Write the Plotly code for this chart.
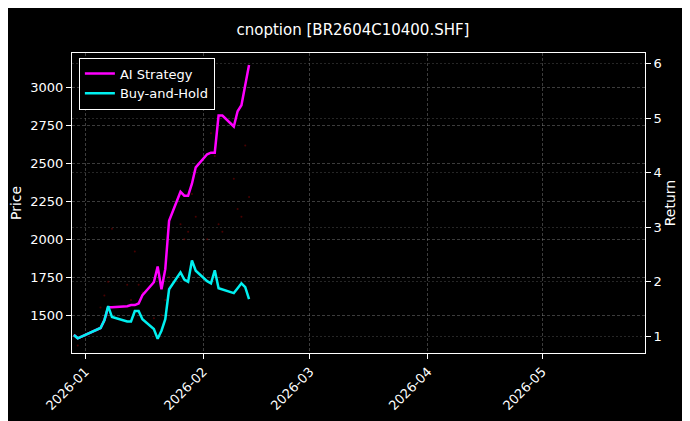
import plotly.graph_objects as go

dates = ["2025-12-29","2025-12-30","2026-01-05","2026-01-06","2026-01-07","2026-01-08","2026-01-12","2026-01-13",
         "2026-01-14","2026-01-15","2026-01-16","2026-01-19","2026-01-20","2026-01-21","2026-01-22","2026-01-23",
         "2026-01-26","2026-01-27","2026-01-28","2026-01-29","2026-01-30","2026-02-02","2026-02-03","2026-02-04",
         "2026-02-05","2026-02-06","2026-02-09","2026-02-10","2026-02-11","2026-02-12","2026-02-13"]
buy_hold = [1.02,0.96,1.15,1.29,1.55,1.35,1.27,1.27,1.46,1.46,1.31,1.13,0.95,1.1,1.31,1.86,2.17,2.04,2.0,2.39,
            2.2,2.01,1.97,2.21,1.88,1.86,1.79,1.88,1.97,1.90,1.68]
ai_strategy = [1.02,0.96,1.15,1.29,1.53,1.53,1.55,1.57,1.57,1.60,1.75,1.99,2.28,1.86,2.23,3.12,3.65,3.58,3.58,3.8,
               4.1,4.34,4.37,4.37,5.05,5.05,4.85,5.13,5.24,5.6,5.98]
price = [1370,1300,1550,1630,1720,2070,1700,1600,1920,1700,1650,1480,1350,1500,1600,1750,2100,2000,2050,2300,
         2150,2000,2700,2550,2100,2050,2400,2200,2150,2620,2280]

fig = go.Figure()
fig.add_trace(go.Scatter(x=dates, y=price, name="Price", yaxis="y", mode="markers", showlegend=False,
                         marker=dict(color="rgba(120,0,0,0.6)", size=2), hoverinfo="skip"))
fig.add_trace(go.Scatter(x=dates, y=ai_strategy, name="AI Strategy", yaxis="y2",
                         line=dict(color="#ff00ff", width=2.5)))
fig.add_trace(go.Scatter(x=dates, y=buy_hold, name="Buy-and-Hold", yaxis="y2",
                         line=dict(color="#00f0f0", width=2.5)))
grid = "rgba(150,150,150,0.4)"
fig.update_layout(
    width=690, height=421, paper_bgcolor="black", plot_bgcolor="black",
    font=dict(family="DejaVu Sans", color="white", size=12),
    title=dict(text="cnoption [BR2604C10400.SHF]", x=0.5, xanchor="center", y=0.96, font=dict(size=15)),
    margin=dict(l=64, r=53, t=45, b=76, autoexpand=False),
    xaxis=dict(type="date", range=["2025-12-28 12:00", "2026-05-28"], tickformat="%Y-%m",
               dtick="M1", tick0="2026-01-01", tickangle=-45, showgrid=True, gridcolor=grid, griddash="3px,2px",
               gridwidth=0.5, showline=True, linecolor="white", mirror=True, ticks="outside", tickcolor="white",
               zeroline=False, automargin=False, tickfont=dict(size=13)),
    yaxis=dict(title=dict(text="Price", standoff=6), range=[1250, 3230], tickvals=[1500,1750,2000,2250,2500,2750,3000],
               showgrid=True, gridcolor=grid, griddash="3px,2px", gridwidth=0.5, showline=True, linecolor="white",
               ticks="outside", tickcolor="white", zeroline=False, automargin=False, tickfont=dict(size=13)),
    yaxis2=dict(title=dict(text="Return", standoff=4), overlaying="y", side="right", range=[0.69, 6.2], tickvals=[1,2,3,4,5,6],
                showgrid=True, gridcolor="rgba(150,150,150,0.25)", griddash="2px,2px", gridwidth=0.5,
                showline=True, linecolor="white", ticks="outside", tickcolor="white", zeroline=False,
                automargin=False, tickfont=dict(size=13)),
    legend=dict(x=0.012, y=0.985, xanchor="left", yanchor="top", bgcolor="black",
                bordercolor="white", borderwidth=1, font=dict(size=13)),
)
fig.write_html("out.html")
